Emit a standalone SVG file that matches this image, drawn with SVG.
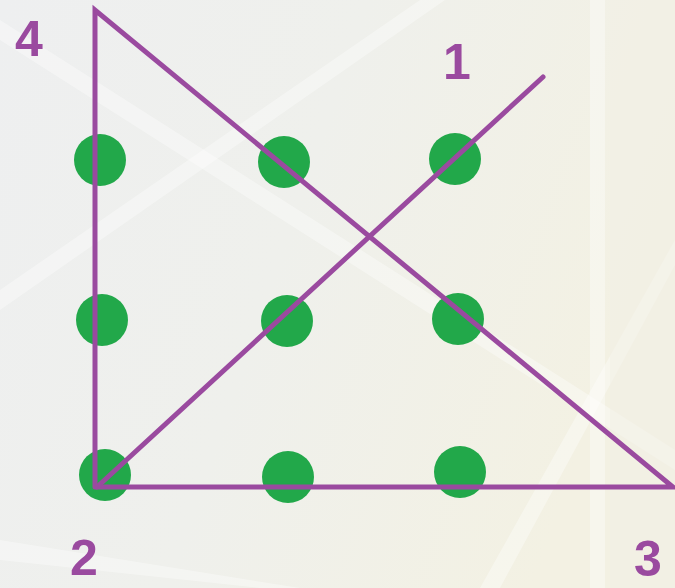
<svg xmlns="http://www.w3.org/2000/svg" width="675" height="588" viewBox="0 0 675 588">
  <defs>
    <linearGradient id="bg" x1="0" y1="0" x2="1" y2="0.3">
      <stop offset="0" stop-color="#eeeff0"/>
      <stop offset="0.5" stop-color="#eff0ec"/>
      <stop offset="1" stop-color="#f3f1e3"/>
    </linearGradient>
  </defs>
  <style>
    .dot { fill: #22a84a; }
    .ln { stroke: #9a4a9f; stroke-width: 5; fill: none; stroke-linecap: round; stroke-linejoin: miter; }
    .lbl { font-family: "Liberation Sans", Arial, sans-serif; font-weight: bold; font-size: 50px; fill: #9a4a9f; }
    .band { fill: #ffffff; opacity: 0.35; }
  </style>
  <g id="background">
    <rect width="675" height="588" fill="url(#bg)"/>
    <polygon class="band" points="0,290 420,0 445,0 0,310"/>
    <polygon class="band" points="0,20 0,40 675,470 675,450"/>
    <polygon class="band" points="590,0 605,0 605,588 590,588"/>
    <polygon class="band" points="480,588 675,240 675,265 500,588"/>
    <polygon class="band" points="0,540 300,588 260,588 0,560"/>
    <rect x="610" y="0" width="65" height="588" fill="#f1f0e6" opacity="0.5"/>
  </g>
  <g id="dots">
    <circle id="dot-1-1" class="dot" cx="100" cy="160" r="26"/>
    <circle id="dot-1-2" class="dot" cx="284" cy="162" r="26"/>
    <circle id="dot-1-3" class="dot" cx="455" cy="159" r="26"/>
    <circle id="dot-2-1" class="dot" cx="102" cy="320" r="26"/>
    <circle id="dot-2-2" class="dot" cx="287" cy="321" r="26"/>
    <circle id="dot-2-3" class="dot" cx="458" cy="319" r="26"/>
    <circle id="dot-3-1" class="dot" cx="105" cy="475" r="26"/>
    <circle id="dot-3-2" class="dot" cx="288" cy="477" r="26"/>
    <circle id="dot-3-3" class="dot" cx="460" cy="472" r="26"/>
  </g>
  <g id="connectors">
    <line class="ln" x1="97" y1="487" x2="543" y2="77"/>
    <path class="ln" d="M 95 487 L 95 10 L 673 487 L 95 487" stroke-linecap="butt"/>
  </g>
  <g id="labels">
    <text class="lbl" x="15" y="56">4</text>
    <text class="lbl" x="443" y="79">1</text>
    <text class="lbl" x="70" y="575">2</text>
    <text class="lbl" x="634" y="576">3</text>
  </g>
</svg>
